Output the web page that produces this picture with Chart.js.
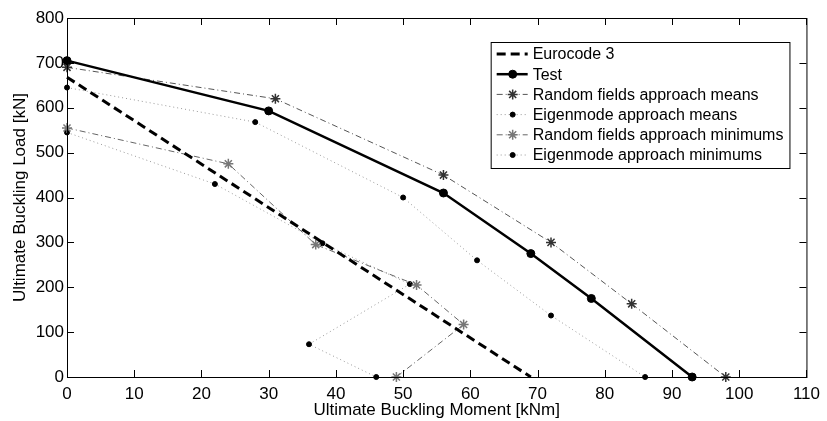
<!DOCTYPE html>
<html>
<head>
<meta charset="utf-8">
<script src="https://cdn.jsdelivr.net/npm/chart.js@4.4.0/dist/chart.umd.min.js"></script>
<style>
  html,body{margin:0;padding:0;background:#fff;}
  #wrap{width:827px;height:421px;}
</style>
</head>
<body>
<div id="wrap"><canvas id="c" width="827" height="421"></canvas></div>
<script>
// data (moment kNm, load kN)
const euroX=[0,69], euroY=[668,0];
const testX=[0,30,56,69,78,93], testY=[705,593,410,275,175,0];
const rfMeanX=[0,31,56,72,84,98], rfMeanY=[690,620,450,300,163,0];
const emMeanX=[0,28,50,61,72,86], emMeanY=[645,568,400,260,137,0];
const rfMinX=[0,24,37,52,59,49], rfMinY=[555,475,295,205,117,0];
const emMinX=[0,22,38,51,36,46], emMinY=[545,430,298,207,73,0];
const xTicks=[0,10,20,30,40,50,60,70,80,90,100,110];
const yTicks=[0,100,200,300,400,500,600,700,800];
const names=['Eurocode 3','Test','Random fields approach means','Eigenmode approach means','Random fields approach minimums','Eigenmode approach minimums'];

function pts(xs,ys){return xs.map((x,i)=>({x:x,y:ys[i]}));}

const FONT='"Liberation Sans", Arial, sans-serif';

// MATLAB-like box with inward ticks
const boxAxes={id:'boxAxes',afterDraw(chart){
  const ctx=chart.ctx,a=chart.chartArea,sx=chart.scales.x,sy=chart.scales.y;
  ctx.save();ctx.strokeStyle='#000';ctx.lineWidth=1;ctx.setLineDash([]);
  ctx.strokeRect(a.left+0.5,a.top+0.5,a.right-a.left,a.bottom-a.top);
  ctx.beginPath();
  xTicks.forEach(v=>{const p=Math.round(sx.getPixelForValue(v))+0.5;
    ctx.moveTo(p,a.bottom);ctx.lineTo(p,a.bottom-7);ctx.moveTo(p,a.top);ctx.lineTo(p,a.top+7);});
  yTicks.forEach(v=>{const p=Math.round(sy.getPixelForValue(v))+0.5;
    ctx.moveTo(a.left,p);ctx.lineTo(a.left+7,p);ctx.moveTo(a.right,p);ctx.lineTo(a.right-7,p);});
  ctx.stroke();ctx.restore();
}};

// boxed legend in the upper right
const boxLegend={id:'boxLegend',afterDraw(chart){
  const ctx=chart.ctx,a=chart.chartArea;
  ctx.save();
  ctx.font='16px '+FONT;
  let tw=0;names.forEach(n=>{tw=Math.max(tw,ctx.measureText(n).width);});
  const w=tw+48,h=126,left=a.right-w-17,top=a.top+24;
  ctx.fillStyle='#fff';ctx.fillRect(left,top,w,h);
  ctx.strokeStyle='#000';ctx.lineWidth=1;ctx.strokeRect(left+0.5,top+0.5,w,h);
  chart.data.datasets.forEach((ds,i)=>{
    const y=top+12+i*20.2;
    ctx.save();
    ctx.strokeStyle=ds.borderColor;ctx.lineWidth=ds.borderWidth;ctx.setLineDash(ds.borderDash||[]);
    ctx.beginPath();ctx.moveTo(left+6,y);ctx.lineTo(left+37,y);ctx.stroke();
    ctx.setLineDash([]);
    if(ds.pointRadius>0){
      ctx.fillStyle=ds.pointBackgroundColor;ctx.strokeStyle=ds.pointBorderColor;ctx.lineWidth=ds.pointBorderWidth;
      Chart.helpers.drawPoint(ctx,{pointStyle:ds.pointStyle,radius:ds.pointRadius,rotation:0,borderWidth:ds.pointBorderWidth},left+22,y);
    }
    ctx.restore();
    ctx.fillStyle='#000';ctx.textBaseline='middle';ctx.textAlign='left';
    ctx.fillText(names[i],left+42,y+1);
  });
  ctx.restore();
}};

new Chart(document.getElementById('c'),{
  type:'line',
  data:{datasets:[
    {label:names[0],data:pts(euroX,euroY),borderColor:'#000',borderWidth:3,borderDash:[9,5],pointRadius:0,clip:false},
    {label:names[1],data:pts(testX,testY),borderColor:'#000',borderWidth:2.5,pointRadius:4,pointStyle:'circle',pointBackgroundColor:'#000',pointBorderColor:'#000',pointBorderWidth:1,clip:false},
    {label:names[2],data:pts(rfMeanX,rfMeanY),borderColor:'#555',borderWidth:1,borderDash:[6,3,1,3],pointRadius:5,pointStyle:'star',pointBorderColor:'#333',pointBackgroundColor:'#333',pointBorderWidth:1.5,clip:false},
    {label:names[3],data:pts(emMeanX,emMeanY),borderColor:'#999',borderWidth:1,borderDash:[1,3],pointRadius:2.5,pointStyle:'circle',pointBackgroundColor:'#000',pointBorderColor:'#000',pointBorderWidth:1,clip:false},
    {label:names[4],data:pts(rfMinX,rfMinY),borderColor:'#666',borderWidth:1,borderDash:[6,3,1,3],pointRadius:5,pointStyle:'star',pointBorderColor:'#777',pointBackgroundColor:'#777',pointBorderWidth:1.5,clip:false},
    {label:names[5],data:pts(emMinX,emMinY),borderColor:'#999',borderWidth:1,borderDash:[1,3],pointRadius:2.5,pointStyle:'circle',pointBackgroundColor:'#000',pointBorderColor:'#000',pointBorderWidth:1,clip:false}
  ]},
  options:{
    responsive:false,animation:false,
    layout:{padding:{top:18,right:19,left:0,bottom:0}},
    elements:{line:{tension:0}},
    plugins:{legend:{display:false},tooltip:{enabled:false}},
    scales:{
      x:{type:'linear',min:0,max:110,
        afterBuildTicks:s=>{s.ticks=xTicks.map(v=>({value:v}));},
        afterFit:s=>{s.height=44;},
        grid:{display:false,drawTicks:false},border:{display:false},
        ticks:{color:'#000',font:{family:FONT,size:17},padding:7,maxRotation:0,autoSkip:false},
        title:{display:true,text:'Ultimate Buckling Moment [kNm]',color:'#000',font:{family:FONT,size:17},padding:{top:0,bottom:0}}},
      y:{type:'linear',min:0,max:800,
        afterBuildTicks:s=>{s.ticks=yTicks.map(v=>({value:v}));},
        afterFit:s=>{s.width=67;},
        grid:{display:false,drawTicks:false},border:{display:false},
        ticks:{color:'#000',font:{family:FONT,size:17},padding:3,autoSkip:false},
        title:{display:true,text:'Ultimate Buckling Load [kN]',color:'#000',font:{family:FONT,size:17},padding:{top:10,bottom:0}}}
    }
  },
  plugins:[boxAxes,boxLegend]
});
</script>
</body>
</html>
